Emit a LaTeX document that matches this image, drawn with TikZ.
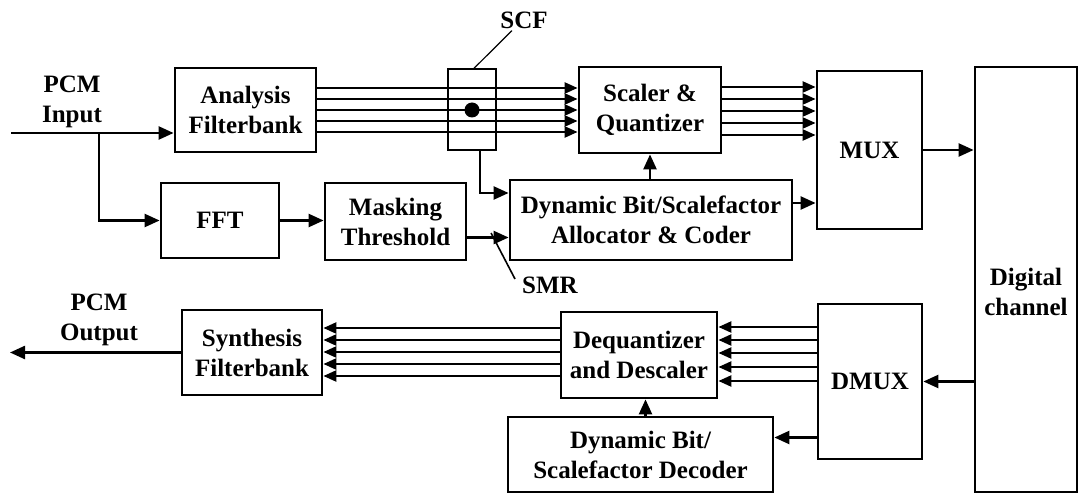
\documentclass[tikz,border=0pt]{standalone}
\usepackage{fontspec}
\setmainfont{Liberation Serif}
\usetikzlibrary{arrows.meta,positioning,calc}
\tikzset{
  blk/.style={draw, line width=2.8pt, align=center, inner sep=0pt,
    font=\bfseries\fontsize{25}{30}\selectfont},
  lbl/.style={align=center, inner sep=2pt, font=\bfseries\fontsize{25}{30}\selectfont},
  wire/.style={line width=2.4pt},
  sig/.style={wire, -{Triangle[length=15pt,width=13pt]}},
  bus/.style={wire, -{Triangle[length=13pt,width=11pt]}}
}

\begin{document}
\begin{tikzpicture}[x=1pt, y=-1pt]
  \useasboundingbox (0,0) rectangle (1078,494);

  % encoder
  \node[blk, minimum width=141, minimum height=84] (ana) at (245.5,110) {Analysis\\Filterbank};
  \node[blk, minimum width=118, minimum height=75] (fft) at (220,220.5) {FFT};
  \node[blk, minimum width=141, minimum height=77] (mask) at (395.5,221.5) {Masking\\Threshold};
  \node[draw, line width=1.4pt, minimum width=48, minimum height=81] (scf) at (472,109.5) {};
  \node[blk, minimum width=142, minimum height=86] (scaler) at (650,110) {Scaler \&\\Quantizer};
  \node[blk, minimum width=282, minimum height=80] (alloc) at (651,220) {Dynamic Bit/Scalefactor\\Allocator \& Coder};
  \node[blk, minimum width=105, minimum height=158] (mux) at (869.5,150) {MUX};
  \node[blk, minimum width=102, minimum height=425,
        label={[lbl,yshift=-12pt]center:Digital\\channel}] (chan) at (1026,279.5) {};

  % decoder
  \node[blk, minimum width=140, minimum height=85] (synth) at (252,352.5) {Synthesis\\Filterbank};
  \node[blk, minimum width=156, minimum height=86] (deq) at (639,355) {Dequantizer\\and Descaler};
  \node[blk, minimum width=104, minimum height=155] (dmux) at (870,381.5) {DMUX};
  \node[blk, minimum width=265, minimum height=75] (dec) at (640.5,454.5) {Dynamic Bit/\\Scalefactor Decoder};

  % free labels
  \node[lbl] (pcmin) at (72,102) {PCM\\Input};
  \node[lbl] (pcmout) at (99,320) {PCM\\Output};
  \node[lbl] (scflbl) at (524,20) {SCF};
  \node[lbl] (smrlbl) at (550,285) {SMR};

  \coordinate (in) at (11,133);
  \coordinate (split) at (99,133);
  \coordinate (out) at (10,352.5);

  % single connections
  \draw[sig] (in) -- (in -| ana.west);
  \draw[sig] (split) |- (fft.west);
  \draw[sig] (fft.east) -- (fft.east -| mask.west);
  \draw[sig] ([yshift=-16pt]mask.east) -- ([yshift=-16pt]mask.east -| alloc.west);
  \draw[sig] ([xshift=8pt]scf.south) |- ([yshift=27pt]alloc.west);
  \draw[sig] (scaler.south |- alloc.north) -- (scaler.south);
  \draw[sig] ([yshift=17pt]alloc.east) -- ([yshift=17pt]alloc.east -| mux.west);
  \draw[sig] (mux.east) -- (mux.east -| chan.west);
  \draw[sig] (chan.west |- dmux.east) -- (dmux.east);
  \draw[sig] ([yshift=17pt]dec.east -| dmux.west) -- ([yshift=17pt]dec.east);
  \draw[sig] ([xshift=5pt]dec.north) -- ([xshift=5pt]dec.north |- deq.south);
  \draw[sig] (synth.west) -- (synth.west -| out);

  % subband lines
  \foreach \y in {88,99,110,121,132}
    \draw[bus] (ana.east |- 0,\y) -- (scaler.west |- 0,\y);
  \foreach \y in {87,99,111,123,135}
    \draw[bus] (scaler.east |- 0,\y) -- (mux.west |- 0,\y);
  \foreach \y in {327,340,353,367,381}
    \draw[bus] (dmux.west |- 0,\y) -- (deq.east |- 0,\y);
  \foreach \y in {328,340,352,364,376}
    \draw[bus] (deq.west |- 0,\y) -- (synth.east |- 0,\y);
  \fill (scf.center |- 0,110) circle[radius=7.5pt];

  % pointers to SCF and SMR
  \draw[line width=1.2pt] ([xshift=2pt]scf.north) -- ([xshift=-12pt]scflbl.south);
  \draw[line width=1.6pt] ([xshift=-5pt,yshift=6pt]smrlbl.west) -- ++(-24,-46);
\end{tikzpicture}
\end{document}
